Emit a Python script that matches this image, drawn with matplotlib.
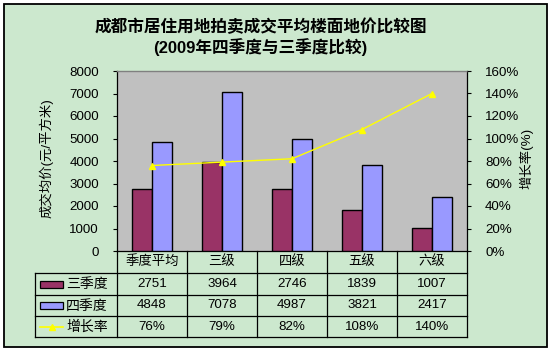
import matplotlib
matplotlib.use("Agg")
import matplotlib.pyplot as plt
import matplotlib.transforms as mtransforms
from matplotlib.lines import Line2D
from matplotlib.patches import Rectangle
import numpy as np

# Data
categories = ["季度平均", "三级", "四级", "五级", "六级"]
q3_prices = [2751, 3964, 2746, 1839, 1007]
q4_prices = [4848, 7078, 4987, 3821, 2417]
growth = [0.76, 0.79, 0.82, 1.08, 1.40]
series_names = ["三季度", "四季度", "增长率"]

W, H = 553, 352
plt.rcParams['font.family'] = ['Liberation Sans', 'Noto Sans CJK SC']

bg = "#CCE8CE"
c_q3 = "#993366"
c_q4 = "#9999FF"
c_line = "#FFFF00"


def fx(x):
    return x / W


def fy(y):
    return 1 - y / H


fig = plt.figure(figsize=(W / 100, H / 100), dpi=100, facecolor="white")

# outer chart area box
fig.add_artist(Rectangle((fx(4), fy(347)), fx(543), 343 / H, transform=fig.transFigure,
                         facecolor=bg, edgecolor="black", lw=1.3, zorder=0))

# plot area
left, right, top, bottom = 117, 467, 71, 251
ax = fig.add_axes([fx(left), fy(bottom), fx(right - left), (bottom - top) / H])
ax.set_facecolor("#C0C0C0")

x = np.arange(len(categories))
bw = 0.286
ax.bar(x - bw / 2, q3_prices, bw, color=c_q3, edgecolor="black", lw=1.0, zorder=3)
ax.bar(x + bw / 2, q4_prices, bw, color=c_q4, edgecolor="black", lw=1.0, zorder=3)
ax.set_xlim(-0.5, len(categories) - 0.5)
ax.set_ylim(0, 8000)
ax.set_yticks(np.arange(0, 8001, 1000))
ax.set_xticks([])
ax.tick_params(axis="y", direction="out", length=3, width=0.8, labelsize=9.6, pad=10)
for s in ["left", "bottom", "right"]:
    ax.spines[s].set_color("black")
    ax.spines[s].set_linewidth(0.9)
ax.spines["top"].set_color("#808080")
ax.spines["top"].set_linewidth(1.0)

ax2 = ax.twinx()
ax2.plot(x, growth, color=c_line, lw=1.0, marker="^", ms=5, mfc=c_line, mec=c_line, zorder=5)
ax2.set_ylim(0, 1.6)
ax2.set_yticks(np.arange(0, 1.61, 0.2))
ax2.set_yticklabels([f"{int(round(v * 100))}%" for v in np.arange(0, 1.61, 0.2)])
ax2.tick_params(axis="y", direction="out", length=3, width=0.8, labelsize=9.6, pad=10)
for s in ["left", "bottom", "right", "top"]:
    ax2.spines[s].set_visible(False)

# axis titles
fig.text(fx(46), fy(158), "成交均价(元/平方米)", rotation=90, ha="center", va="center", fontsize=9.6)
fig.text(fx(526), fy(158), "增长率(%)", rotation=90, ha="center", va="center", fontsize=9.6)

# title
fig.text(fx(261), fy(27), "成都市居住用地拍卖成交平均楼面地价比较图", ha="center", va="center",
         fontsize=12, fontweight="bold")
fig.text(fx(260), fy(47), "(2009年四季度与三季度比较)", ha="center", va="center",
         fontsize=12, fontweight="bold")

# data table below plot
tr = mtransforms.blended_transform_factory(ax.transData, fig.transFigure)
row_y = [251, 273, 295, 316, 337]
tab_left = 35
lkw = dict(color="black", lw=0.9)

# header row (category labels)
for i, c in enumerate(categories):
    fig.text(i, (fy(row_y[0]) + fy(row_y[1])) / 2, c, transform=tr, ha="center", va="center", fontsize=9.6)
# vertical lines
for b in np.arange(-0.5, len(categories), 1.0):
    fig.add_artist(Line2D([b, b], [fy(row_y[0]), fy(row_y[-1])], transform=tr, **lkw))
# horizontal lines
for y in row_y[1:]:
    fig.add_artist(Line2D([fx(tab_left), fx(right)], [fy(y), fy(y)], transform=fig.transFigure, **lkw))
fig.add_artist(Line2D([fx(tab_left), fx(tab_left)], [fy(row_y[1]), fy(row_y[-1])],
                      transform=fig.transFigure, **lkw))

rows = [[str(v) for v in q3_prices], [str(v) for v in q4_prices],
        [f"{int(round(v * 100))}%" for v in growth]]
for r, vals in enumerate(rows):
    yc = (fy(row_y[r + 1]) + fy(row_y[r + 2])) / 2
    for i, v in enumerate(vals):
        fig.text(i, yc, v, transform=tr, ha="center", va="center", fontsize=9.6)
    fig.text(fx(66), yc, series_names[r], ha="left", va="center", fontsize=10)
    if r < 2:
        fig.add_artist(Rectangle((fx(40), yc - 3.5 / H), fx(23), 7 / H, transform=fig.transFigure,
                                 facecolor=[c_q3, c_q4][r], edgecolor="black", lw=0.9))
    else:
        fig.add_artist(Line2D([fx(40), fx(63)], [yc, yc], transform=fig.transFigure, color=c_line, lw=1.2))
        fig.add_artist(Line2D([fx(51.5)], [yc], transform=fig.transFigure, marker="^", ms=5,
                              color=c_line, mec=c_line))

fig.savefig("out.png", dpi=100, facecolor="white")
